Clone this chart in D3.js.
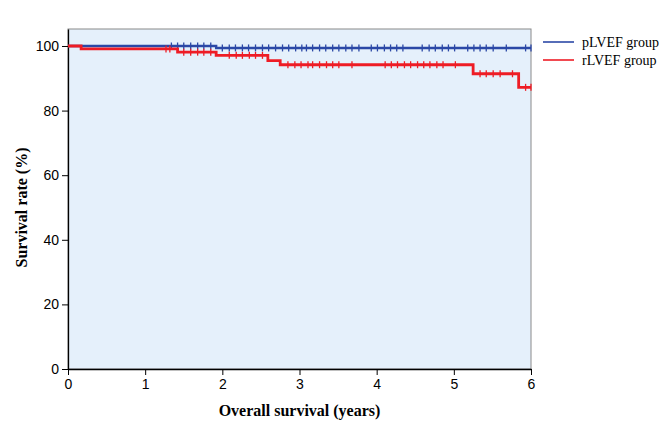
<!DOCTYPE html>
<html lang="en">
<head>
<meta charset="utf-8">
<script src="https://d3js.org/d3.v7.min.js"></script>
<title>Survival curves</title>
<style>
  body { margin: 0; background: #fff; }
</style>
</head>
<body>
<div id="chart"></div>
<script>
// step curves (time in years, survival %)
var pTimes = [0, 1.92, 6];
var pSurv  = [100, 99.4, 99.4];
var rTimes = [0, 0.17, 1.42, 1.92, 2.59, 2.75, 5.25, 5.84, 6];
var rSurv  = [100, 99.1, 98.1, 97.1, 95.5, 94.2, 91.4, 87.2, 87.2];

// censored observations
var pCensor = [1.34, 1.42, 1.50, 1.59, 1.68, 1.76, 1.85,
  2.00, 2.09, 2.17, 2.26, 2.34, 2.43, 2.52, 2.60, 2.69, 2.78, 2.86, 2.95, 3.03,
  3.09, 3.17, 3.26, 3.34, 3.43, 3.51, 3.60, 3.68, 3.77, 3.93, 4.01, 4.10, 4.18,
  4.26, 4.34, 4.59, 4.68, 4.76, 4.85, 4.93, 5.01, 5.18, 5.26, 5.34, 5.42, 5.51,
  5.68, 5.93, 6.0];
var rCensor = [1.27, 1.32, 1.50, 1.59, 1.68, 1.76, 1.85,
  2.09, 2.18, 2.26, 2.35, 2.43, 2.52, 2.85, 2.94, 3.02, 3.11,
  3.17, 3.26, 3.35, 3.43, 3.51, 3.68, 4.11, 4.19, 4.27, 4.36, 4.44, 4.53,
  4.61, 4.69, 4.78, 4.86, 5.02, 5.34, 5.42, 5.51, 5.60, 5.76, 5.93, 6.0];

var xTicks = [0, 1, 2, 3, 4, 5, 6];
var yTicks = [0, 20, 40, 60, 80, 100];

var groups = [
  {name: "pLVEF group", times: pTimes, surv: pSurv, censor: pCensor, color: "#2b48a6", w: 2.4},
  {name: "rLVEF group", times: rTimes, surv: rSurv, censor: rCensor, color: "#ee1c25", w: 2.8}
];

var width = 669, height = 431;
var svg = d3.select("#chart").append("svg")
  .attr("width", width).attr("height", height);

var x = d3.scaleLinear().domain([0, 6]).range([68, 531]);
var y = d3.scaleLinear().domain([0, 105.26]).range([369, 29]);

// plot background + frame
svg.append("rect")
  .attr("x", x(0)).attr("y", y(105.26))
  .attr("width", x(6) - x(0)).attr("height", y(0) - y(105.26))
  .attr("fill", "#e5f0fb").attr("stroke", "#8a8a8a").attr("stroke-width", 1);

// axes
var xAxis = svg.append("g")
  .attr("transform", "translate(0," + y(0) + ")")
  .call(d3.axisBottom(x).tickValues(xTicks).tickSizeInner(6).tickSizeOuter(0)
    .tickPadding(4).tickFormat(d3.format("d")));
var yAxis = svg.append("g")
  .attr("transform", "translate(" + x(0) + ",0)")
  .call(d3.axisLeft(y).tickValues(yTicks).tickSizeInner(6).tickSizeOuter(0)
    .tickPadding(3).tickFormat(d3.format("d")));

[xAxis, yAxis].forEach(function (a) {
  a.select(".domain").attr("stroke", "#000").attr("stroke-width", 1.3);
  a.selectAll(".tick line").attr("stroke", "#000");
  a.selectAll("text").style("font-family", "Liberation Sans, Arial, sans-serif")
    .style("font-size", "14px").attr("fill", "#000");
});

function survAt(g, t) {
  var s = g.surv[0];
  for (var i = 0; i < g.times.length; i++) {
    if (g.times[i] <= t) s = g.surv[i];
  }
  return s;
}

var line = d3.line()
  .x(function (d) { return x(d[0]); })
  .y(function (d) { return y(d[1]); })
  .curve(d3.curveStepAfter);

groups.forEach(function (g) {
  var pts = g.times.map(function (t, i) { return [t, g.surv[i]]; });
  svg.append("path")
    .datum(pts)
    .attr("d", line)
    .attr("fill", "none")
    .attr("stroke", g.color)
    .attr("stroke-width", g.w);

  svg.append("g").selectAll("line")
    .data(g.censor)
    .enter().append("line")
    .attr("x1", function (d) { return x(d); })
    .attr("x2", function (d) { return x(d); })
    .attr("y1", function (d) { return y(survAt(g, d)) - 3.5; })
    .attr("y2", function (d) { return y(survAt(g, d)) + 3.5; })
    .attr("stroke", g.color)
    .attr("stroke-width", 1.3);
});

// axis titles
svg.append("text")
  .attr("x", (x(0) + x(6)) / 2).attr("y", 416)
  .attr("text-anchor", "middle")
  .style("font-family", "Liberation Serif, Times New Roman, serif")
  .style("font-weight", "bold").style("font-size", "16px")
  .text("Overall survival (years)");

svg.append("text")
  .attr("transform", "translate(27," + (y(50)) + ") rotate(-90)")
  .attr("text-anchor", "middle")
  .style("font-family", "Liberation Serif, Times New Roman, serif")
  .style("font-weight", "bold").style("font-size", "16px")
  .text("Survival rate (%)");

// legend
var legend = svg.append("g");
groups.forEach(function (g, i) {
  var ly = 42 + i * 18;
  legend.append("line")
    .attr("x1", 543).attr("x2", 574).attr("y1", ly).attr("y2", ly)
    .attr("stroke", g.color).attr("stroke-width", 1.6);
  legend.append("text")
    .attr("x", 582).attr("y", ly + 5)
    .style("font-family", "Liberation Serif, Times New Roman, serif")
    .style("font-size", "14px")
    .text(g.name);
});
</script>
</body>
</html>
